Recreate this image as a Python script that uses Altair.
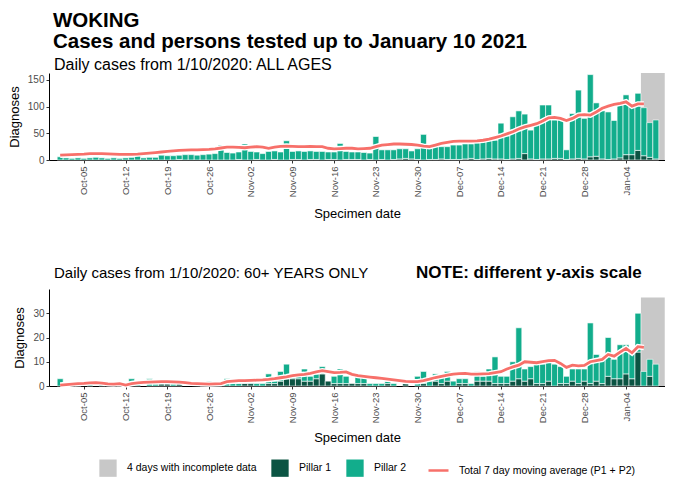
import altair as alt
import pandas as pd

# ---------------- data ----------------
first_day = "2020-10-01"
n_days = 102

all_p1 = [0,0,0,0,0,0,0,0,0,0,
          0,0,0,0,0,0,0,0,0,0,
          1,0,0,0,0,0,0,0,0,0,
          1,0,0,1,0,0,1,0,0,1,
          1,0,1,1,0,1,1,0,1,1,
          1,0,1,0,1,0,1,2,3,2,
          1,0,1,1,2,1,1,1,2,3,
          1,2,3,2,2,1,2,3,12,2,
          1,2,2,3,3,1,2,3,2,6,
          7,2,1,2,4,10,10,18,8,5,
          2,0]
all_p2 = [6,4,3,4,3,4,5,4,3,4,
          3,4,5,8,4,5,5,9,8,8,
          8,10,10,9,10,11,12,28,14,13,
          14,30,16,14,12,16,16,15,36,15,
          16,16,16,15,16,14,14,31,15,14,
          14,14,12,44,18,19,18,19,18,15,
          20,48,23,24,23,24,27,27,28,27,
          31,32,33,35,67,44,79,89,74,54,
          68,101,101,72,73,18,85,128,76,154,
          100,90,89,72,99,112,89,107,90,65,
          73,0]
all_ma = [9,9.5,10,10.5,11,12,12,12,11.5,11,
          10.5,10.5,10.5,11,12,13,14,15,16,17,
          18,18.5,19,19,19.5,20,21,22.5,24,24,
          23.5,23,24,25,24,22,24,25.5,26,25.5,
          25,25,25.5,25,25,22,21,21.5,22,22,
          21,21.5,22,25,28,29,30,30,29.5,29,
          28,26,25,28,31,33,35,35.5,35.5,35.5,
          36,37,39,42,45,49,53,58,62,65,
          68,73,79,80,78,74,78,84,85,84,
          90,97,101,104,106,109,101,105,105]

old_p1 = [0,0,0,0,0,0,0,0,0,0,
          0,0,0,0,0,0,0,1,1,0,
          1,0,0,0,0,0,0,0,0,0,
          0,1,1,0,0,1,1,2,3,3,
          3,2,2,3,5,2,1,1,1,1,
          1,1,0,0,0,1,0,0,1,0,
          0,1,0,2,1,2,0,1,1,0,
          2,2,2,1,1,1,2,3,2,3,
          1,1,2,0,1,1,2,1,2,1,
          2,1,4,3,3,5,3,14,0,4,
          0,0]
old_p2 = [3,0,0,1,0,1,0,1,0,0,
          1,0,3,1,0,3,1,0,0,1,
          0,0,0,0,1,2,1,1,3,1,
          1,0,1,1,1,4,1,4,6,1,
          1,5,2,2,3,0,3,6,3,0,
          3,3,1,1,1,1,1,0,0,0,
          4,5,2,3,3,4,2,2,2,1,
          4,2,5,11,3,3,8,21,5,5,
          8,8,8,9,7,3,5,6,5,25,
          11,11,16,8,14,12,11,16,6,7,
          9,0]
old_ma = [0.4,0.6,0.8,1.0,1.1,1.3,1.4,1.2,0.9,0.8,
          1.0,0.4,1.0,1.3,1.5,1.6,1.7,1.8,1.8,1.7,
          1.6,1.4,1.1,1.0,0.9,0.8,0.9,1.0,1.8,2.0,
          2.2,2.2,2.3,2.4,2.5,2.7,3.0,3.4,3.8,4.3,
          4.6,4.8,5.2,5.8,6.3,5.9,5.5,5.6,5.8,4.8,
          4.3,4.0,3.7,3.4,3.1,2.8,2.5,2.2,1.9,1.8,
          1.8,2.2,2.8,3.5,4.0,4.5,4.9,5.1,5.2,4.9,
          4.9,5.0,5.1,5.5,5.9,7.0,7.9,8.6,10.0,9.8,
          9.6,10.1,10.5,10.6,9.3,7.7,8.6,8.3,8.5,10.0,
          10.5,11.0,13.0,12.3,14.0,15.5,13.7,16.2,15.9]

incomplete_first = "2021-01-07"
incomplete_days = 4

tick_dates = ["2020-10-05", "2020-10-12", "2020-10-19", "2020-10-26",
              "2020-11-02", "2020-11-09", "2020-11-16", "2020-11-23",
              "2020-11-30", "2020-12-07", "2020-12-14", "2020-12-21",
              "2020-12-28", "2021-01-04"]

series_names = ["4 days with incomplete data", "Pillar 1", "Pillar 2"]
series_colors = ["#c8c8c8", "#0b5443", "#12ad8c"]
ma_name = "Total 7 day moving average (P1 + P2)"
ma_color = "#f7706a"

title_main = "WOKING"
title_sub = "Cases and persons tested up to January 10 2021"
title_top = "Daily cases from 1/10/2020: ALL AGES"
title_bottom = "Daily cases from 1/10/2020: 60+ YEARS ONLY"
note_bottom = "NOTE: different y-axis scale"

# ---------------- frames ----------------
dates = pd.date_range(first_day, periods=n_days, freq="D")
half = pd.Timedelta(hours=12)


def bar_frame(p1, p2):
    rows = []
    for d, a, b in zip(dates, p1, p2):
        rows.append({"start": d - half, "end": d + half, "series": "Pillar 1",
                     "lo": 0, "hi": a})
        rows.append({"start": d - half, "end": d + half, "series": "Pillar 2",
                     "lo": a, "hi": a + b})
    df = pd.DataFrame(rows)
    return df[df["hi"] > df["lo"]]


def ma_frame(ma):
    return pd.DataFrame({"date": dates[:len(ma)], "ma": ma, "lbl": ma_name})


inc_start = pd.Timestamp(incomplete_first)
gray_df = pd.DataFrame({
    "start": [inc_start - half],
    "end": [inc_start + pd.Timedelta(days=incomplete_days - 1) + half],
    "series": [series_names[0]],
})

x_domain = [alt.DateTime(year=2020, month=9, date=29, hours=3),
            alt.DateTime(year=2021, month=1, date=10, hours=13)]
tick_vals = [alt.DateTime(year=int(t[:4]), month=int(t[5:7]), date=int(t[8:10]))
             for t in tick_dates]

color_scale = alt.Scale(domain=series_names, range=series_colors)
stroke_scale = alt.Scale(domain=[ma_name], range=[ma_color])

fill_legend = alt.Legend(orient="none", legendX=50, legendY=386, direction="horizontal",
                         title=None, symbolType="square", symbolSize=300,
                         symbolStrokeWidth=0, labelFontSize=10.5, labelColor="black",
                         labelFont="Liberation Sans", labelOffset=10, columnPadding=14,
                         labelLimit=300)
line_legend = alt.Legend(orient="none", legendX=378, legendY=386, direction="horizontal",
                         title=None, symbolType="stroke", symbolSize=400,
                         symbolStrokeWidth=2.5, labelFontSize=10.5, labelColor="black",
                         labelFont="Liberation Sans", labelOffset=9, labelLimit=300)

W = 616


def panel(p1, p2, ma, ymax, grayTop, yticks, height, xtitle_pad):
    xax = alt.Axis(values=tick_vals, format="%b-%d", labelAngle=270, title="Specimen date",
                   labelFontSize=9.5, titleFontSize=13, tickSize=3, labelPadding=3,
                   titlePadding=xtitle_pad)
    yax = alt.Axis(values=yticks, title="Diagnoses", labelFontSize=10, titleFontSize=13,
                   tickSize=3, titlePadding=6)
    xs = alt.Scale(domain=x_domain)
    ys = alt.Scale(domain=[0, ymax], nice=False)

    gray = alt.Chart(gray_df).mark_rect().encode(
        x=alt.X("start:T", scale=xs, axis=xax),
        x2="end:T",
        y=alt.datum(0, type="quantitative", scale=ys, axis=yax),
        y2=alt.datum(grayTop),
        color=alt.Color("series:N", scale=color_scale, legend=fill_legend),
    )
    bars = alt.Chart(bar_frame(p1, p2)).mark_bar(stroke="white", strokeWidth=0.6).encode(
        x=alt.X("start:T", scale=xs, axis=xax),
        x2="end:T",
        y=alt.Y("lo:Q", scale=ys, axis=yax),
        y2="hi:Q",
        color=alt.Color("series:N", scale=color_scale, legend=fill_legend),
    )
    halo = alt.Chart(ma_frame(ma)).mark_line(strokeWidth=5.5, color="white").encode(
        x=alt.X("date:T", scale=xs, axis=xax),
        y=alt.Y("ma:Q", scale=ys, axis=yax),
    )
    line = alt.Chart(ma_frame(ma)).mark_line(strokeWidth=2.8).encode(
        x=alt.X("date:T", scale=xs, axis=xax),
        y=alt.Y("ma:Q", scale=ys, axis=yax),
        stroke=alt.Stroke("lbl:N", scale=stroke_scale, legend=line_legend),
    )
    return alt.layer(gray, bars, halo, line).properties(width=W, height=height)


top = panel(all_p1, all_p2, all_ma, 163, 163, [0, 50, 100, 150], 87, 11).properties(
    title=alt.TitleParams(title_top, anchor="start", frame="group", dx=5, fontSize=16,
                          fontWeight="normal", font="Liberation Sans", color="black",
                          offset=0),
)

bottom_title = alt.Chart(pd.DataFrame({"t": [title_bottom]})).mark_text(
    align="left", baseline="alphabetic", fontSize=15,
    font="Liberation Sans", color="black"
).encode(text="t:N", x=alt.value(5), y=alt.value(-11))

note = alt.Chart(pd.DataFrame({"t": [note_bottom]})).mark_text(
    align="left", baseline="alphabetic", fontWeight="bold", fontSize=17,
    font="Liberation Sans", color="black"
).encode(text="t:N", x=alt.value(367), y=alt.value(-11))

bottom = alt.layer(
    panel(old_p1, old_p2, old_ma, 40, 36.5, [0, 10, 20, 30], 97, 9),
    bottom_title,
    note,
)

chart = alt.vconcat(top, bottom, spacing=43).properties(
    title=alt.TitleParams(title_main, subtitle=title_sub,
                          anchor="start", frame="group", dx=4, fontSize=20.5,
                          subtitleFontSize=20.5,
                          fontWeight="bold", subtitleFontWeight="bold", color="black",
                          subtitleColor="black", font="Liberation Sans",
                          subtitleFont="Liberation Sans", offset=5, subtitlePadding=0),
    padding={"left": 0, "top": 3, "right": 0, "bottom": 0},
).resolve_scale(color="shared", stroke="shared").configure_view(stroke=None).configure_axis(
    grid=False, domainColor="black", tickColor="#333333", labelColor="#4d4d4d",
    titleColor="black", labelFont="Liberation Sans", titleFont="Liberation Sans",
    titleFontWeight="normal", domainWidth=1,
)

chart.save("out.html", embed_options={"renderer": "svg", "actions": False})
